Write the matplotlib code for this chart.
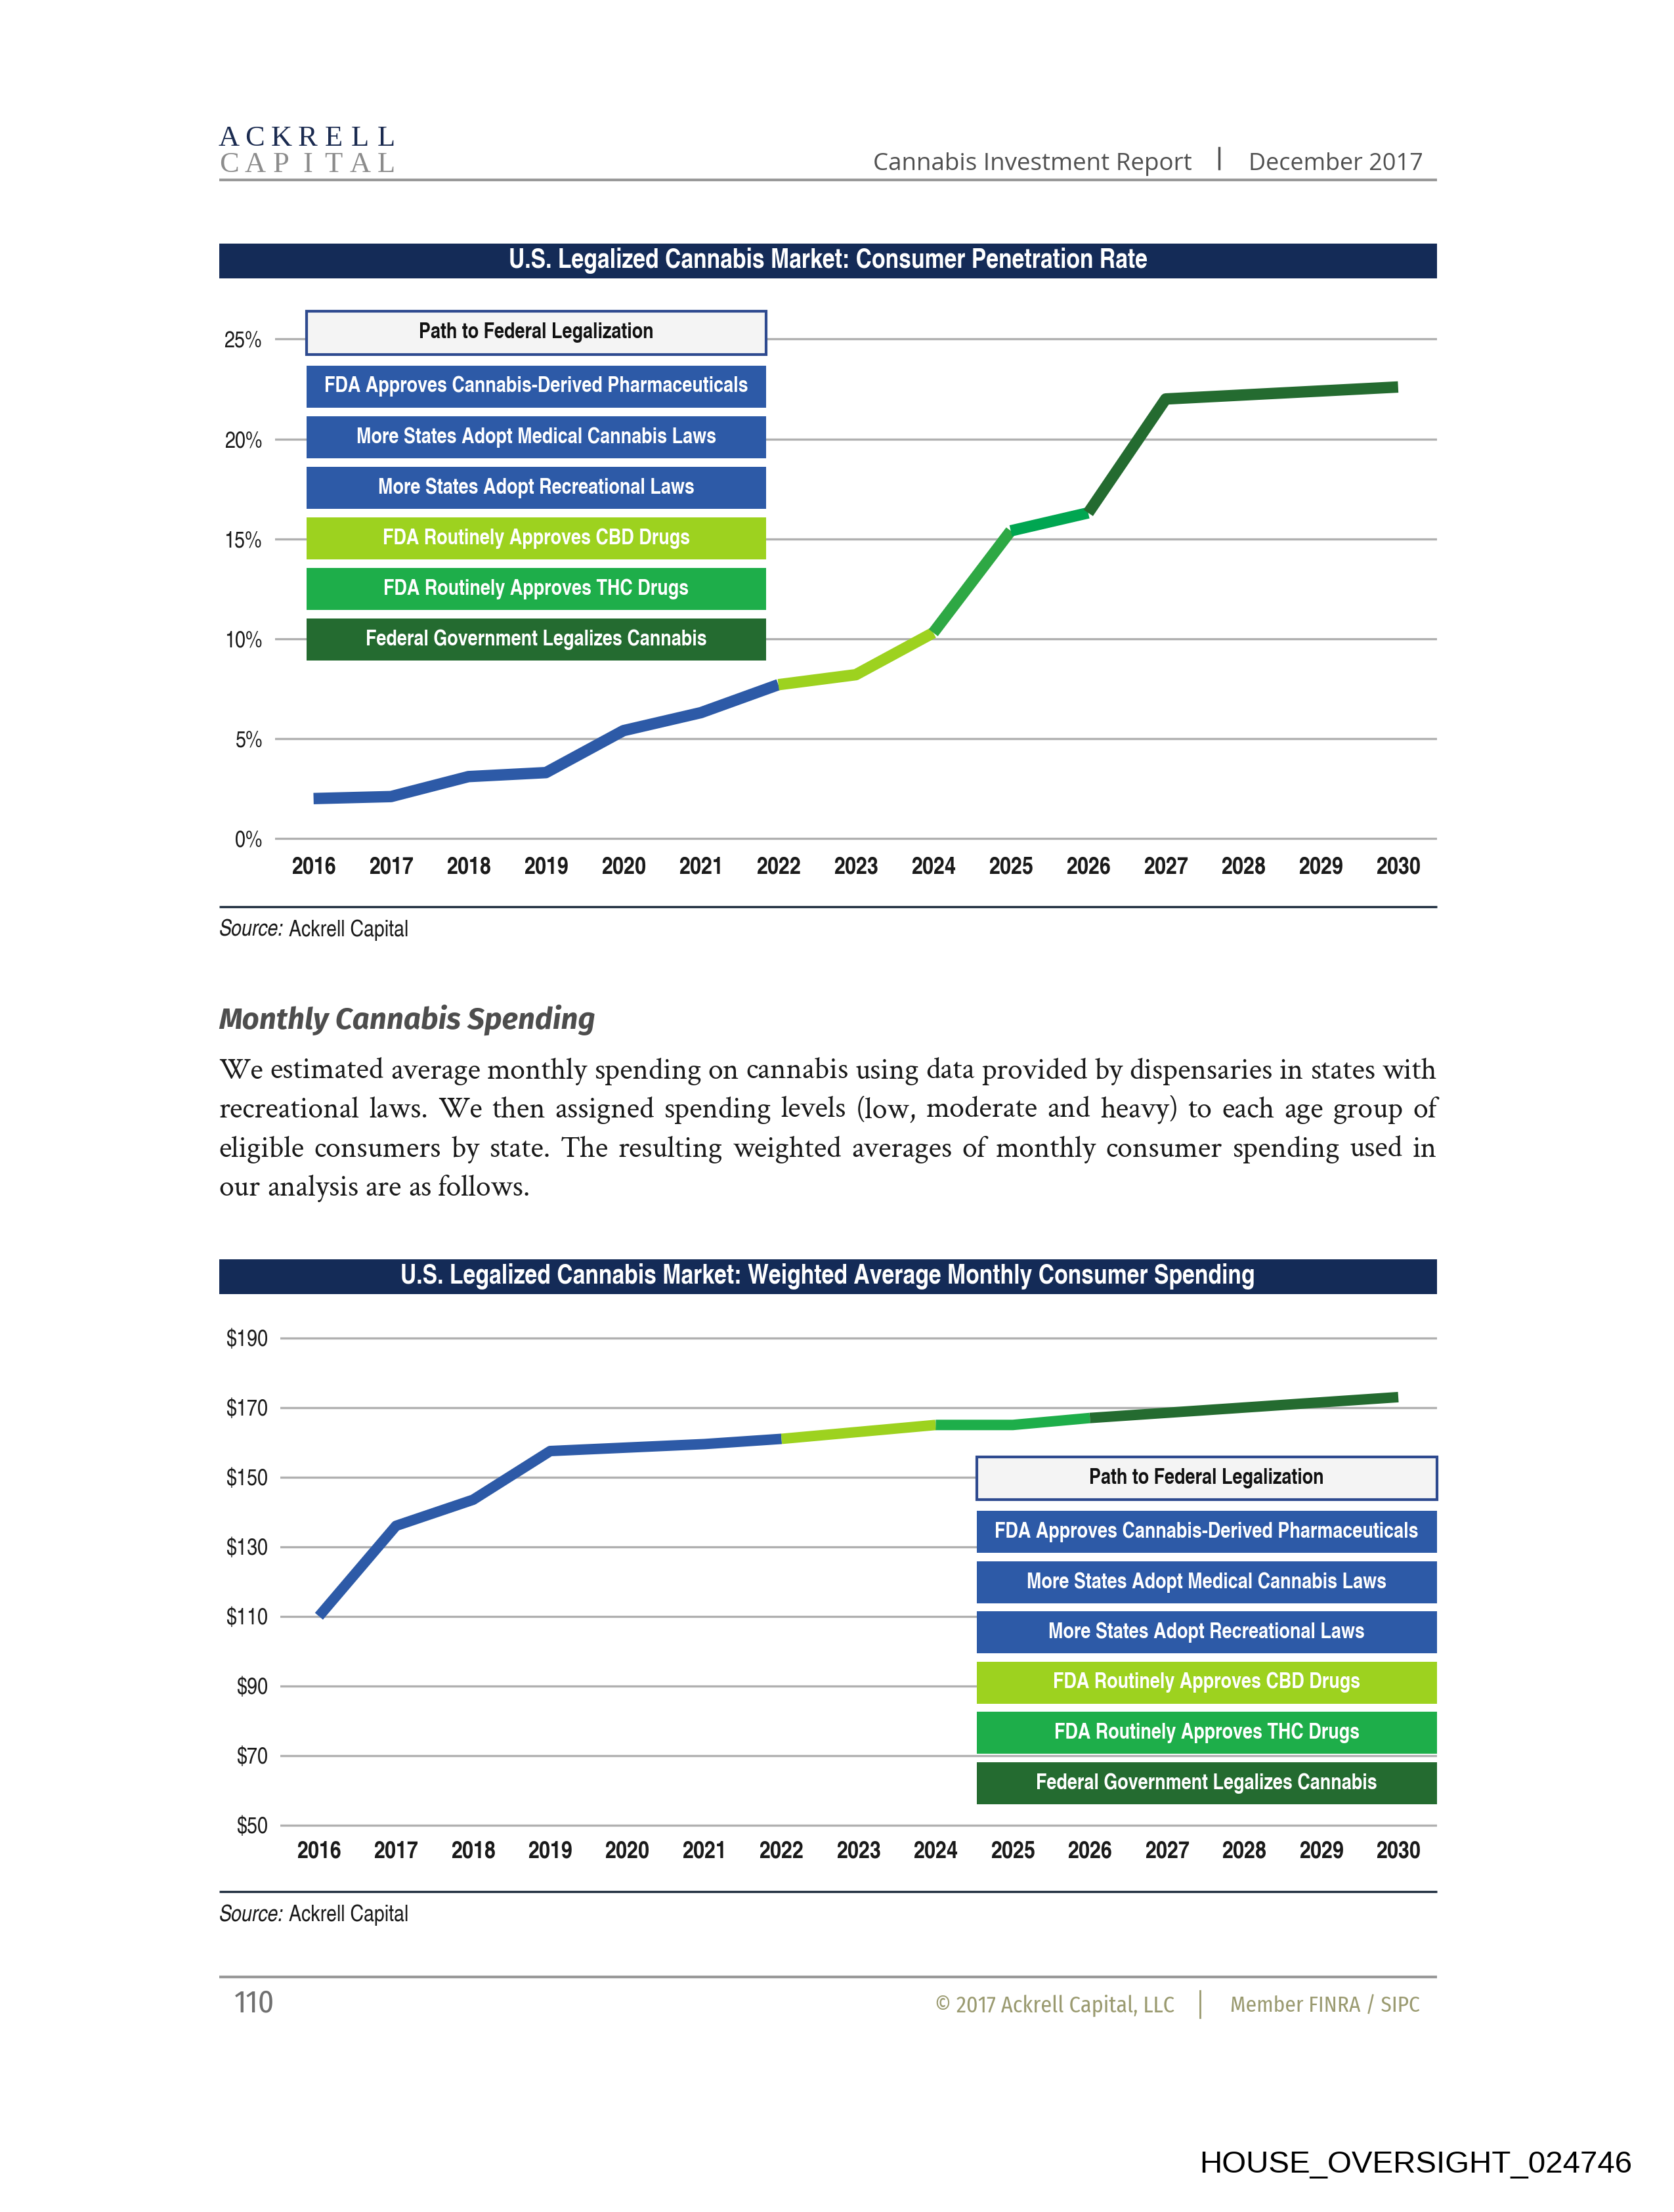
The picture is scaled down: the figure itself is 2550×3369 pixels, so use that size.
import matplotlib
matplotlib.use('Agg')
import matplotlib.pyplot as plt
from matplotlib.patches import Rectangle
from matplotlib.lines import Line2D

# --- data ---
years = list(range(2016, 2031))
penetration = [2.0, 2.1, 3.1, 3.3, 5.4, 6.3, 7.7, 8.2, 10.3, 15.4, 16.3, 22.0, 22.2, 22.4, 22.6]
spending = [110, 136, 143.5, 157.5, 158.5, 159.5, 161, 163, 165, 165, 167, 168.5, 170, 171.5, 173]

pen_ticks = [0, 5, 10, 15, 20, 25]
spend_ticks = [50, 70, 90, 110, 130, 150, 170, 190]

legend_title = 'Path to Federal Legalization'
legend_labels = ['FDA Approves Cannabis-Derived Pharmaceuticals',
                 'More States Adopt Medical Cannabis Laws',
                 'More States Adopt Recreational Laws',
                 'FDA Routinely Approves CBD Drugs',
                 'FDA Routinely Approves THC Drugs',
                 'Federal Government Legalizes Cannabis']

BLUE, LIME, GREEN, DARK = '#2D5AA7', '#9DD21F', '#1EAE4A', '#246B30'
legend_colors = [BLUE, BLUE, BLUE, LIME, GREEN, DARK]

# colour segments of each line (start year, end year, colour)
pen_segments = [(2016, 2022, BLUE), (2022, 2024, LIME), (2024, 2025, '#2EA844'),
                (2025, 2026, '#00A651'), (2026, 2030, DARK)]
spend_segments = [(2016, 2022, BLUE), (2022, 2024, LIME), (2024, 2026, GREEN),
                  (2026, 2030, DARK)]

NAVY = '#142B57'
GRID = '#B0B0B0'

# fonts (first one found is used)
NARROW = ['TeX Gyre Heros Cn', 'Archivo Narrow', 'Liberation Sans']
HEAD = ['Fira Sans', 'Open Sans']
SANS = ['Open Sans', 'Liberation Sans']
FOOT = ['Fira Sans Condensed', 'Open Sans']
SERIF = ['Crimson Text', 'Crimson Pro', 'Liberation Serif']

# page laid out in "display units" (1200 wide), converted to figure fractions
W_PX, H_PX = 2550, 3369
K = W_PX / 1200
H_D = H_PX / K


def fx(x):
    return x / 1200


def fy(y):
    return 1 - y / H_D


fig = plt.figure(figsize=(W_PX / 100, H_PX / 100), dpi=100)
fig.patch.set_facecolor('white')
renderer = fig.canvas.get_renderer()


def text_width(s, size, **kw):
    t = fig.text(0, 0, s, fontsize=size, **kw)
    w = t.get_window_extent(renderer).width
    t.remove()
    return w


def fit_size(s, width_d, **kw):
    # font size so that s is width_d display units wide
    return 20 * width_d * K / text_width(s, 20, **kw)


def fit_text(x, y, s, width_d, **kw):
    return fig.text(fx(x), fy(y), s, fontsize=fit_size(s, width_d, **kw), **kw)


def hline(y, x0, x1, color, lw):
    fig.add_artist(Line2D([fx(x0), fx(x1)], [fy(y), fy(y)], color=color, lw=lw,
                          transform=fig.transFigure, solid_capstyle='butt'))


def vline(x, y0, y1, color, lw):
    fig.add_artist(Line2D([fx(x), fx(x)], [fy(y0), fy(y1)], color=color, lw=lw,
                          transform=fig.transFigure))


def box(x0, y0, x1, y1, face, edge=None, lw=0):
    fig.add_artist(Rectangle((fx(x0), fy(y1)), fx(x1) - fx(x0), fy(y0) - fy(y1),
                             transform=fig.transFigure, facecolor=face,
                             edgecolor=edge if edge else face, lw=lw, zorder=5))


# --- page header ---
letter_x = [164 + i * 18.8 for i in range(7)]
for ch, x in zip('ACKRELL', letter_x):
    fig.text(fx(x), fy(104.5), ch, family='Liberation Serif', fontsize=32,
             color='#1B2B50', ha='center', va='baseline')
for ch, x in zip('CAPITAL', letter_x):
    fig.text(fx(x), fy(123.5), ch, family='Liberation Serif', fontsize=32,
             color='#8C8C8C', ha='center', va='baseline')
fit_text(626, 122, 'Cannabis Investment Report', 228, family=SANS,
         color='#505050', ha='left', va='baseline')
vline(874, 106, 121, '#505050', 2.5)
fit_text(895, 122, 'December 2017', 125, family=SANS,
         color='#505050', ha='left', va='baseline')
hline(129, 157, 1030, '#999999', 3)

# shared font sizes for the charts
box_size = fit_size(legend_labels[0], 304, family=NARROW, fontweight='bold')
xtick_size = fit_size('2016', 32, family=NARROW, fontweight='bold')
ytick_size = fit_size('25%', 27, family=NARROW)
src_size = fit_size('Source: Ackrell Capital', 136, family=NARROW)


def draw_chart(values, segments, ticks, fmt, zero_px, px_per_unit, ymin, ymax,
               grid_left, title, title_w, title_y, rule_y, legend_x, legend_y0,
               legend_pitch, lw, xpad):
    # title bar
    box(157, title_y - 12.5, 1030, title_y + 12.5, NAVY)
    t = fit_text(593.5, title_y, title, title_w, family=NARROW, fontweight='bold',
                 color='white', ha='center', va='center')
    t.set_zorder(6)

    bottom_px = zero_px + (ticks[0] - ymin) * px_per_unit
    top_px = zero_px - (ymax - ticks[0]) * px_per_unit
    ax = fig.add_axes([fx(grid_left), fy(bottom_px), fx(1030) - fx(grid_left),
                       (bottom_px - top_px) / H_D])
    ax.set_facecolor('none')
    for s in ax.spines.values():
        s.set_visible(False)
    ax.set_xlim(2015.5, 2030.5)
    ax.set_ylim(ymin, ymax)
    ax.set_yticks(ticks, labels=[fmt(v) for v in ticks], family=NARROW,
                  fontsize=ytick_size)
    ax.set_xticks(years, labels=[str(y) for y in years], family=NARROW,
                  fontsize=xtick_size, fontweight='bold')
    ax.tick_params(axis='both', length=0, colors='#1A1A1A')
    ax.tick_params(axis='y', pad=14)
    ax.tick_params(axis='x', pad=xpad)
    ax.grid(axis='y', color=GRID, lw=2.4)
    ax.set_axisbelow(True)

    for start, end, color in segments:
        i0, i1 = years.index(start), years.index(end)
        ax.plot(years[i0:i1 + 1], values[i0:i1 + 1], color=color, lw=lw,
                solid_capstyle='butt', solid_joinstyle='round', zorder=3)

    # legend boxes
    lx0, lx1 = legend_x
    box(lx0, legend_y0, lx1, legend_y0 + 31, '#F4F4F4', edge='#2E4A8F', lw=3)
    fig.text(fx((lx0 + lx1) / 2), fy(legend_y0 + 15.5), legend_title,
             family=NARROW, fontsize=box_size, fontweight='bold', color='#111111',
             ha='center', va='center', zorder=6)
    for i, (label, color) in enumerate(zip(legend_labels, legend_colors)):
        y0 = legend_y0 + 39 + i * legend_pitch
        box(lx0, y0, lx1, y0 + 30, color)
        fig.text(fx((lx0 + lx1) / 2), fy(y0 + 15), label, family=NARROW,
                 fontsize=box_size, fontweight='bold', color='white',
                 ha='center', va='center', zorder=6)

    # bottom rule and source line
    hline(rule_y, 157, 1030, '#1C2B3C', 2.4)
    src = fig.text(fx(157), fy(rule_y + 21), 'Source:', family=NARROW,
                   fontsize=src_size, style='italic', color='#1A1A1A',
                   ha='left', va='baseline')
    w = src.get_window_extent(renderer).width + text_width(' ', src_size, family=NARROW)
    fig.text(fx(157) + w / W_PX, fy(rule_y + 21), 'Ackrell Capital', family=NARROW,
             fontsize=src_size, color='#1A1A1A', ha='left', va='baseline')
    return ax


draw_chart(penetration, pen_segments, pen_ticks, lambda v: f'{v}%',
           601, 14.32, -0.5, 26.0, 197,
           'U.S. Legalized Cannabis Market: Consumer Penetration Rate', 458, 187, 650,
           (220, 549), 223, 36.3, 12.5, 9)

draw_chart(spending, spend_segments, spend_ticks, lambda v: f'${v}',
           1308, 2.493, 48, 195, 201,
           'U.S. Legalized Cannabis Market: Weighted Average Monthly Consumer Spending',
           613, 915, 1356, (700, 1030), 1044, 36.0, 11.5, 10)

# --- text section ---
fit_text(157, 737, 'Monthly Cannabis Spending', 270, family=HEAD,
         fontweight='bold', style='italic', color='#4D4D4D', ha='left', va='baseline')

body_lines = [
    'We estimated average monthly spending on cannabis using data provided by dispensaries in states with',
    'recreational laws. We then assigned spending levels (low, moderate and heavy) to each age group of',
    'eligible consumers by state. The resulting weighted averages of monthly consumer spending used in',
    'our analysis are as follows.',
]
body_kw = dict(family=SERIF, color='#1A1A1A', ha='left', va='baseline')
body_size = fit_size(body_lines[-1], 224, **body_kw)
space_w = text_width('a b', body_size, **body_kw) - text_width('ab', body_size, **body_kw)

for n, line in enumerate(body_lines):
    words = line.split(' ')
    y = 773 + n * 28
    texts = [fig.text(0, fy(y), w, fontsize=body_size, **body_kw) for w in words]
    widths = [t.get_window_extent(renderer).width for t in texts]
    if n == len(body_lines) - 1:
        gap = space_w
    else:
        gap = max(((1030 - 157) * K - sum(widths)) / (len(words) - 1), 0.3 * space_w)
    x = 157 * K
    for t, w in zip(texts, widths):
        t.set_x(x / W_PX)
        x += w + gap

# --- page footer ---
hline(1417, 157, 1030, '#999999', 3)
fit_text(168, 1442, '110', 29, family=FOOT, color='#707070', ha='left', va='baseline')
fit_text(670, 1442, '\u00a9 2017 Ackrell Capital, LLC', 172, family=FOOT,
         color='#9A9A70', ha='left', va='baseline')
vline(860, 1427, 1446, '#9A9A70', 2)
fit_text(882, 1442, 'Member FINRA / SIPC', 136, family=FOOT,
         color='#9A9A70', ha='left', va='baseline')

fit_text(860, 1557, 'HOUSE_OVERSIGHT_024746', 310, family='Liberation Sans',
         color='black', ha='left', va='baseline')

fig.savefig('out.png', dpi=100, facecolor='white')
